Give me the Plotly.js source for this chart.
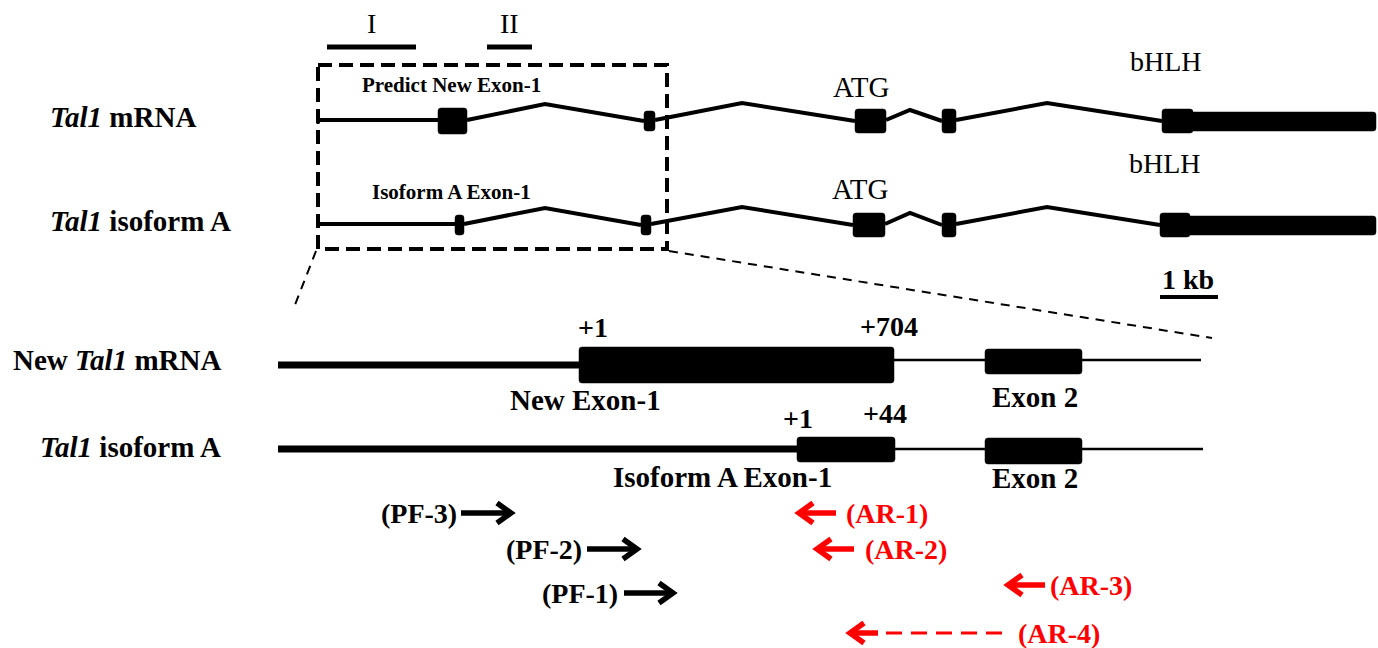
<!DOCTYPE html>
<html>
<head>
<meta charset="utf-8">
<script src="https://cdn.plot.ly/plotly-3.0.1.min.js"></script>
<style>
  html, body { margin: 0; padding: 0; background: #ffffff; }
  #chart { width: 1378px; height: 648px; }
</style>
</head>
<body>
<div id="chart"></div>
<script>
// ---------- Genomic overview: Tal1 transcripts ----------
const overviewRowY = [120, 224];
const overviewRowLabels = ['<b><i>Tal1</i> mRNA</b>', '<b><i>Tal1</i> isoform A</b>'];
const overviewLabelRight = [198, 233];
const overviewStart = [318, 318];
const overviewExonStart = [[438, 644, 855, 942, 1162], [455, 641, 853, 942, 1160]];
const overviewExonEnd   = [[467, 655, 886, 956, 1193], [464, 651, 885, 956, 1190]];
const overviewExonHalf  = [[13, 10, 12, 12, 12], [10, 10, 12, 12, 12]];
const overviewIntronPeakX = [[545, 742, 910, 1047], [545, 742, 910, 1047]];
const overviewIntronRise  = [[16, 17, 10, 17], [16, 17, 11, 17]];
const overviewTailEnd = [1376, 1376];
const overviewTailHalf = [10, 10];
const overviewExon1Names = ['<b>Predict New Exon-1</b>', '<b>Isoform A Exon-1</b>'];
const overviewExon1NameX = [451, 451];
const overviewExon1NameY = [85, 192];
const atgLabelX = [861, 860];
const atgLabelY = [87, 189];
const bhlhLabelX = [1166, 1165];
const bhlhLabelY = [61, 163];

// Regions I and II
const regionNames = ['I', 'II'];
const regionStart = [327, 487];
const regionEnd = [416, 532];

// ---------- Zoomed view: exon 1 region ----------
const zoomRowY = [362, 449];
const zoomRowLabels = ['<b>New <i>Tal1</i> mRNA</b>', '<b><i>Tal1</i> isoform A</b>'];
const zoomLabelRight = [223, 223];
const zoomStart = [278, 278];
const zoomExon1Start = [579, 797];
const zoomExon1End = [894, 895];
const zoomExon1Top = [347, 437];
const zoomExon1Bottom = [383, 462];
const zoomUpstreamY = [365, 449];
const zoomExon2Start = [985, 985];
const zoomExon2End = [1082, 1082];
const zoomExon2Top = [349, 438];
const zoomExon2Bottom = [374, 464];
const zoomEnd = [1201, 1203];
const zoomDownstreamY = [360, 449];
const zoomExon1Names = ['<b>New Exon-1</b>', '<b>Isoform A Exon-1</b>'];
const zoomExon1NameX = [585, 722];
const zoomExon1NameY = [400, 477];
const exon2NameY = [397, 478];
const exon2NameX = 1035;
const positionTexts = ['<b>+1</b>', '<b>+704</b>', '<b>+1</b>', '<b>+44</b>'];
const positionX = [593, 889, 798, 885];
const positionY = [327, 326, 418, 413];

// ---------- Primers ----------
const fwdPrimers = ['(PF-3)', '(PF-2)', '(PF-1)'];
const fwdLabelX = [419, 544, 580];
const fwdArrowStart = [461, 587, 624];
const fwdArrowEnd = [511, 637, 673];
const fwdY = [513, 549, 593];
const revPrimers = ['(AR-1)', '(AR-2)', '(AR-3)', '(AR-4)'];
const revLabelX = [887, 906, 1091, 1059];
const revArrowTip = [799, 817, 1008, 850];
const revArrowTail = [836, 854, 1045, 1006];
const revY = [513, 549, 585, 633];
const revDashed = [false, false, false, true];

const FONT = 'Liberation Serif, Times New Roman, serif';
const RED = '#ff0000';

const traces = [];
const shapes = [];
const annotations = [];

function addLine(xs, ys, width, color, dash) {
  traces.push({
    x: xs, y: ys, mode: 'lines', type: 'scatter', hoverinfo: 'skip', showlegend: false,
    line: { color: color || '#000', width: width, dash: dash || 'solid' }
  });
}
// exon block with slightly rounded corners
function addRect(x0, x1, y0, y1) {
  const r = Math.min(3, (x1 - x0) / 3, (y1 - y0) / 3);
  const path = `M${x0 + r},${y0} L${x1 - r},${y0} Q${x1},${y0} ${x1},${y0 + r} ` +
    `L${x1},${y1 - r} Q${x1},${y1} ${x1 - r},${y1} L${x0 + r},${y1} ` +
    `Q${x0},${y1} ${x0},${y1 - r} L${x0},${y0 + r} Q${x0},${y0} ${x0 + r},${y0} Z`;
  shapes.push({ type: 'path', xref: 'x', yref: 'y', path: path,
    fillcolor: '#000', line: { color: '#000', width: 0.5 }, layer: 'above' });
}
function addText(text, x, y, size, anchor, color) {
  annotations.push({ text: text, x: x, y: y, xref: 'x', yref: 'y', showarrow: false,
    xanchor: anchor || 'center', yanchor: 'middle',
    font: { family: FONT, size: size, color: color || '#000' } });
}

// Overview rows
overviewRowY.forEach((y, r) => {
  const s = overviewExonStart[r], e = overviewExonEnd[r];
  // 5' region up to first exon
  addLine([overviewStart[r], s[0]], [y, y], 4);
  addLine([overviewStart[r], overviewStart[r]], [y - 4, y + 4], 3);
  // introns drawn as peaked connectors
  const xs = [], ys = [];
  for (let i = 0; i < s.length - 1; i++) {
    xs.push(e[i], overviewIntronPeakX[r][i], s[i + 1], null);
    ys.push(y, y - overviewIntronRise[r][i], y + 1, null);
  }
  addLine(xs, ys, 4);
  s.forEach((x0, i) => addRect(x0, e[i], y - overviewExonHalf[r][i] + 1, y + overviewExonHalf[r][i] + 1));
  // coding tail after bHLH exon
  addRect(e[e.length - 1] - 4, overviewTailEnd[r], y - overviewTailHalf[r] + 2, y + overviewTailHalf[r] + 1);
  addText(overviewRowLabels[r], overviewLabelRight[r], y - 3, 29, 'right');
  addText(overviewExon1Names[r], overviewExon1NameX[r], overviewExon1NameY[r], 21);
  addText('ATG', atgLabelX[r], atgLabelY[r], 29);
  addText('bHLH', bhlhLabelX[r], bhlhLabelY[r], 28);
});

// Regions I / II
regionNames.forEach((n, i) => {
  addLine([regionStart[i], regionEnd[i]], [47, 47], 5);
  addText(n, (regionStart[i] + regionEnd[i]) / 2, 23, 28);
});

// Dashed box around exon-1 region and zoom guides
shapes.push({ type: 'rect', xref: 'x', yref: 'y', x0: 318, x1: 667, y0: 65, y1: 249,
  line: { color: '#000', width: 4, dash: '14px,7px' }, fillcolor: 'rgba(0,0,0,0)' });
addLine([316, 293], [251, 310], 2, '#000', '9px,7px');
addLine([669, 1212], [251, 338], 2, '#000', '9px,7px');

// Scale bar
addLine([1160, 1218], [297, 297], 4);
addText('<b>1 kb</b>', 1188, 279, 28);

// Zoomed rows
zoomRowY.forEach((y, r) => {
  addLine([zoomStart[r], zoomExon1Start[r]], [zoomUpstreamY[r], zoomUpstreamY[r]], 7);
  addLine([zoomExon1End[r], zoomEnd[r]], [zoomDownstreamY[r], zoomDownstreamY[r]], 2.5);
  addRect(zoomExon1Start[r], zoomExon1End[r], zoomExon1Top[r], zoomExon1Bottom[r]);
  addRect(zoomExon2Start[r], zoomExon2End[r], zoomExon2Top[r], zoomExon2Bottom[r]);
  addText(zoomRowLabels[r], zoomLabelRight[r], y - 2, 29, 'right');
  addText(zoomExon1Names[r], zoomExon1NameX[r], zoomExon1NameY[r], 29);
  addText('<b>Exon 2</b>', exon2NameX, exon2NameY[r], 29);
});
positionTexts.forEach((t, i) => addText(t, positionX[i], positionY[i], 28));

// Forward primers
fwdPrimers.forEach((p, i) => {
  const y = fwdY[i], x1 = fwdArrowEnd[i];
  addLine([fwdArrowStart[i], x1 - 2, null, x1 - 14, x1, x1 - 14],
          [y, y, null, y - 10, y, y + 10], 5.5);
  addText('<b>' + p + '</b>', fwdLabelX[i], y, 28);
});

// Reverse primers
revPrimers.forEach((p, i) => {
  const y = revY[i], x0 = revArrowTip[i];
  if (revDashed[i]) {
    addLine([x0 + 2, x0 + 28], [y, y], 5.5, RED);
    addLine([x0 + 36, revArrowTail[i]], [y, y], 3, RED, '16px,9px');
  } else {
    addLine([x0 + 2, revArrowTail[i]], [y, y], 5.5, RED);
  }
  addLine([x0 + 14, x0, x0 + 14], [y - 10, y, y + 10], 5.5, RED);
  addText('<b>' + p + '</b>', revLabelX[i], y, 28, 'center', RED);
});

const layout = {
  width: 1378, height: 648,
  margin: { l: 0, r: 0, t: 0, b: 0 },
  paper_bgcolor: '#ffffff', plot_bgcolor: '#ffffff',
  xaxis: { range: [0, 1378], visible: false, fixedrange: true },
  yaxis: { range: [648, 0], visible: false, fixedrange: true },
  shapes: shapes,
  annotations: annotations,
  showlegend: false
};

Plotly.newPlot('chart', traces, layout, { staticPlot: true, displayModeBar: false });
</script>
</body>
</html>
